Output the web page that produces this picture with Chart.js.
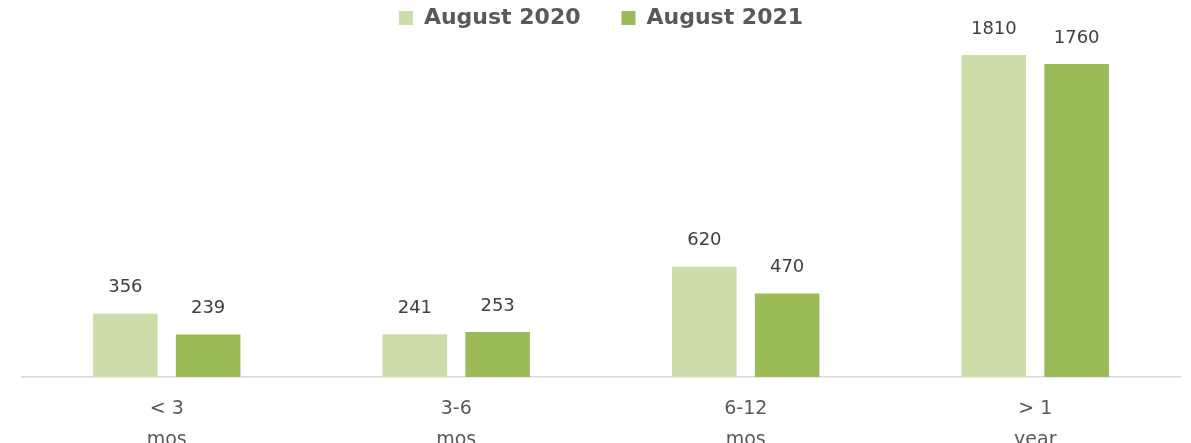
<!DOCTYPE html>
<html>
<head>
<meta charset="utf-8">
<script src="https://cdn.jsdelivr.net/npm/chart.js@4/dist/chart.umd.min.js"></script>
<style>
  html, body { margin: 0; padding: 0; background: #ffffff; }
  #wrap { width: 1191px; height: 443px; position: relative; }
</style>
</head>
<body>
<div id="wrap"><canvas id="c" width="1191" height="443"></canvas></div>
<script>
const categories = [["< 3", "mos"], ["3-6", "mos"], ["6-12", "mos"], ["> 1", "year"]];
const seriesNames = ["August 2020", "August 2021"];
const aug2020 = [356, 241, 620, 1810];
const aug2021 = [239, 253, 470, 1760];
const colors = ["#CDDDAA", "#9BBB59"];

const valueLabels = {
  id: 'valueLabels',
  afterDatasetsDraw(chart) {
    const ctx = chart.ctx;
    ctx.save();
    ctx.font = '18px "DejaVu Sans"';
    ctx.fillStyle = '#404040';
    ctx.textAlign = 'center';
    ctx.textBaseline = 'middle';
    chart.data.datasets.forEach((ds, i) => {
      const meta = chart.getDatasetMeta(i);
      meta.data.forEach((bar, j) => {
        ctx.fillText(String(ds.data[j]), bar.x, bar.y - 26);
      });
    });
    ctx.restore();
  }
};

new Chart(document.getElementById('c'), {
  type: 'bar',
  data: {
    labels: categories,
    datasets: [
      { label: seriesNames[0], data: aug2020, backgroundColor: colors[0] },
      { label: seriesNames[1], data: aug2021, backgroundColor: colors[1] }
    ]
  },
  options: {
    responsive: false,
    animation: false,
    devicePixelRatio: 1,
    layout: { padding: { top: -34, left: 22, right: 11, bottom: 0 } },
    datasets: { bar: { categoryPercentage: 0.572, barPercentage: 0.78 } },
    plugins: {
      tooltip: { enabled: false },
      legend: {
        position: 'top',
        labels: {
          boxWidth: 14,
          boxHeight: 14,
          padding: 41,
          color: '#595959',
          font: { family: '"DejaVu Sans"', size: 22, weight: 'bold' }
        }
      }
    },
    scales: {
      y: {
        display: false,
        min: 0,
        max: 1900
      },
      x: {
        grid: { display: false, drawTicks: false },
        border: { display: true, color: '#D9D9D9', width: 1.5 },
        ticks: {
          color: '#595959',
          padding: 16,
          maxRotation: 0,
          autoSkip: false,
          font: { family: '"DejaVu Sans"', size: 19, lineHeight: 1.65 }
        },
        afterFit(scale) { scale.height = 66; }
      }
    }
  },
  plugins: [valueLabels]
});
</script>
</body>
</html>
